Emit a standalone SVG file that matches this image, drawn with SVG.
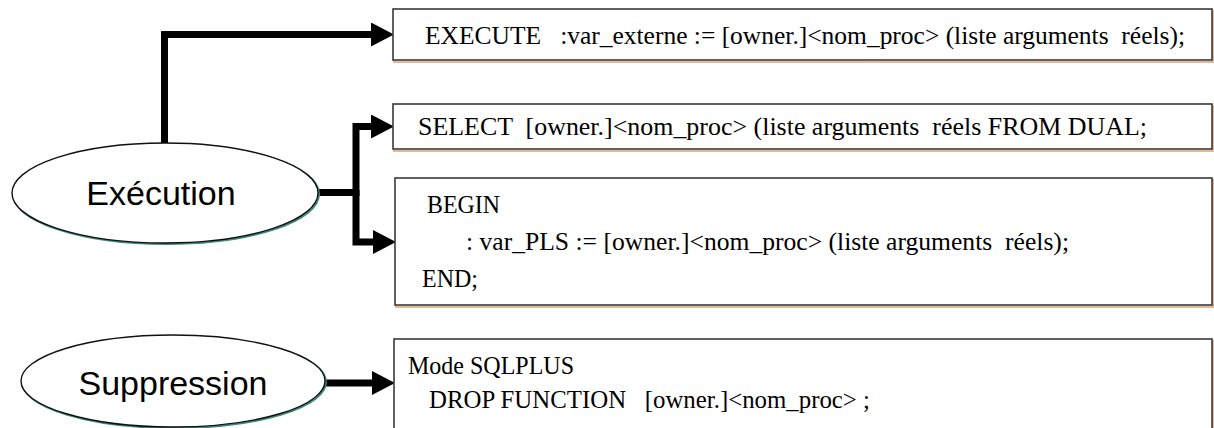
<svg xmlns="http://www.w3.org/2000/svg" width="1214" height="428" viewBox="0 0 1214 428">
  <style>
    .code { font-family: "Liberation Serif", "Times New Roman", serif; font-size: 25px; fill: #000; white-space: pre; }
    .label { font-family: "Liberation Sans", Arial, sans-serif; font-size: 34px; fill: #000; text-anchor: middle; }
    .box { fill: #fff; stroke: #3a3a3a; stroke-width: 1.6; }
    .box-shadow { fill: none; stroke: #e6b894; stroke-width: 2; }
    .oval { fill: #fff; stroke: #111; stroke-width: 1.4; }
    .oval-shadow { fill: none; stroke: #3d8a80; stroke-width: 2; }
    .wire { fill: none; stroke: #000; stroke-width: 7; stroke-linejoin: miter; stroke-linecap: butt; }
  </style>
  <defs>
    <marker id="head" viewBox="0 0 23 24" refX="0" refY="12" markerWidth="23" markerHeight="24" markerUnits="userSpaceOnUse" orient="auto">
      <path d="M0,0 L23,12 L0,24 Z" fill="#000"/>
    </marker>
  </defs>
  <rect width="1214" height="428" fill="#fff"/>

  <!-- connectors -->
  <g id="connectors">
    <path class="wire" d="M164.5,143 V34.5 H371" marker-end="url(#head)"/>
    <path class="wire" d="M318,192.5 H356"/>
    <path class="wire" d="M356,196 V126.5 H371" marker-end="url(#head)"/>
    <path class="wire" d="M356,190 V242 H373" marker-end="url(#head)"/>
    <path class="wire" d="M325,383 H372" marker-end="url(#head)"/>
  </g>

  <!-- Exécution -->
  <g id="node-execution">
    <ellipse class="oval-shadow" cx="166" cy="194" rx="153" ry="50"/>
    <ellipse class="oval" cx="165" cy="193" rx="153" ry="50"/>
    <text class="label" x="161" y="205">Exécution</text>
  </g>

  <!-- Suppression -->
  <g id="node-suppression">
    <ellipse class="oval-shadow" cx="174" cy="382" rx="152" ry="46"/>
    <ellipse class="oval" cx="173" cy="381" rx="152" ry="46"/>
    <text class="label" x="173" y="395">Suppression</text>
  </g>

  <!-- EXECUTE -->
  <g id="node-execute">
    <rect class="box-shadow" x="394" y="11" width="819" height="51"/>
    <rect class="box" x="393" y="9" width="819" height="51"/>
    <text class="code" x="425" y="43.5" textLength="760" lengthAdjust="spacingAndGlyphs">EXECUTE   :var_externe := [owner.]&lt;nom_proc&gt; (liste arguments  réels);</text>
  </g>

  <!-- SELECT -->
  <g id="node-select">
    <rect class="box-shadow" x="394" y="106" width="819" height="45"/>
    <rect class="box" x="393" y="104" width="819" height="45"/>
    <text class="code" x="418" y="135" textLength="729" lengthAdjust="spacingAndGlyphs">SELECT  [owner.]&lt;nom_proc&gt; (liste arguments  réels FROM DUAL;</text>
  </g>

  <!-- BEGIN ... END; -->
  <g id="node-begin">
    <rect class="box-shadow" x="396" y="180" width="817" height="127"/>
    <rect class="box" x="395" y="178" width="817" height="127"/>
    <text class="code" x="427" y="213" textLength="73" lengthAdjust="spacingAndGlyphs">BEGIN</text>
    <text class="code" x="466" y="250" textLength="603" lengthAdjust="spacingAndGlyphs">: var_PLS := [owner.]&lt;nom_proc&gt; (liste arguments  réels);</text>
    <text class="code" x="422" y="287" textLength="56" lengthAdjust="spacingAndGlyphs">END;</text>
  </g>

  <!-- DROP FUNCTION -->
  <g id="node-drop">
    <rect class="box-shadow" x="395" y="341" width="818" height="110"/>
    <rect class="box" x="394" y="339" width="818" height="110"/>
    <text class="code" x="408" y="374" textLength="166" lengthAdjust="spacingAndGlyphs">Mode SQLPLUS</text>
    <text class="code" x="429" y="408" textLength="441" lengthAdjust="spacingAndGlyphs">DROP FUNCTION   [owner.]&lt;nom_proc&gt; ;</text>
  </g>
</svg>
